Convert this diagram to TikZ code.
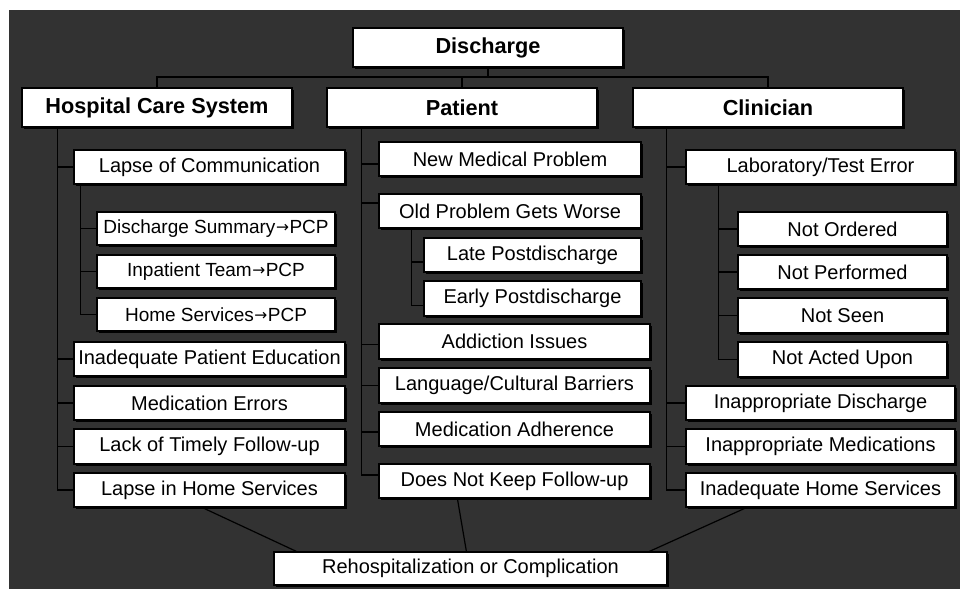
\documentclass[tikz,border=0pt]{standalone}
\usepackage{fontspec}
\setmainfont{Liberation Sans}
\newfontfamily\arrowfont{DejaVu Sans}
\newcommand\rarr{\kern0.5pt\raisebox{0.5pt}{\resizebox{13pt}{!}{\arrowfont →}}\kern0.5pt}
\usetikzlibrary{shadows}
\definecolor{bgdark}{HTML}{323232}
\tikzset{
  box/.style={draw=black, fill=white, line width=1.2pt, inner sep=0pt,
    general shadow={fill=black, shadow xshift=2pt, shadow yshift=-2pt},
    font=\fontsize{20}{24}\selectfont},
  smallbox/.style={box, font=\fontsize{19}{22}\selectfont},
  headbox/.style={box, font=\fontsize{21.7}{26}\selectfont\bfseries},
  conn/.style={draw=black, line width=1.5pt},
}
\newcommand\mkbox[7][box]{%
  \node[#1, minimum width={(#5-#3)*1pt}, minimum height={(#6-#4)*1pt}]
    (#2) at ({(#3+#5)/2},{(#4+#6)/2}) {#7};}
\begin{document}
\begin{tikzpicture}[x=1pt,y=-1pt]
\useasboundingbox (0,0) rectangle (960,589);
\fill[white] (0,0) rectangle (960,589);
\fill[bgdark] (9,10) rectangle (960,589);

% headers
\mkbox[headbox]{dis}{353}{28}{623}{67}{Discharge}
\mkbox[headbox]{hcs}{22}{88}{292}{127}{Hospital Care System}
\mkbox[headbox]{pat}{327}{88}{597}{127}{Patient}
\mkbox[headbox]{cli}{633}{88}{903}{127}{Clinician}

% hospital care system
\mkbox{h1}{74}{150}{345}{184}{Lapse of Communication}
\mkbox[smallbox]{h1a}{97}{212}{335}{245}{Discharge Summary\rarr PCP}
\mkbox[smallbox]{h1b}{97}{255}{335}{288}{Inpatient Team\rarr PCP}
\mkbox[smallbox]{h1c}{97}{298}{335}{331}{Home Services\rarr PCP}
\mkbox{h2}{74}{342}{345}{376}{Inadequate Patient Education}
\mkbox{h3}{74}{386}{345}{420}{Medication Errors}
\mkbox{h4}{74}{429}{345}{464}{Lack of Timely Follow-up}
\mkbox{h5}{74}{473}{345}{507}{Lapse in Home Services}

% patient
\mkbox{p1}{379}{142}{641}{176}{New Medical Problem}
\mkbox{p2}{379}{194}{641}{228}{Old Problem Gets Worse}
\mkbox{p2a}{424}{238}{641}{272}{Late Postdischarge}
\mkbox{p2b}{424}{281}{641}{316}{Early Postdischarge}
\mkbox{p3}{379}{324}{650}{359}{Addiction Issues}
\mkbox{p4}{379}{368}{650}{403}{Language/Cultural Barriers}
\mkbox{p5}{379}{412}{650}{446}{Medication Adherence}
\mkbox{p6}{379}{464}{650}{498}{Does Not Keep Follow-up}

% clinician
\mkbox{c1}{686}{150}{955}{184}{Laboratory/Test Error}
\mkbox{c1a}{738}{212}{947}{246}{Not Ordered}
\mkbox{c1b}{738}{255}{947}{289}{Not Performed}
\mkbox{c1c}{738}{298}{947}{333}{Not Seen}
\mkbox{c1d}{738}{342}{947}{377}{Not Acted Upon}
\mkbox{c2}{686}{386}{955}{420}{Inappropriate Discharge}
\mkbox{c3}{686}{429}{955}{464}{Inappropriate Medications}
\mkbox{c4}{686}{473}{955}{507}{Inadequate Home Services}

% outcome
\mkbox{reh}{274}{552}{667}{585}{Rehospitalization or Complication}

% top bus
\coordinate (bus) at (0,77);
\draw[conn] (dis.south) -- (dis.south |- bus);
\draw[conn] (hcs.north) -- (hcs.north |- bus) -- (cli.north |- bus) -- (cli.north);
\draw[conn] (pat.north) -- (pat.north |- bus);

% hospital trunk
\coordinate (ht) at ([xshift=36pt]hcs.south west);
\draw[conn] (ht) |- (h5.west);
\foreach \n in {h1,h2,h3,h4} \draw[conn] (ht |- \n.west) -- (\n.west);
\coordinate (hst) at ([xshift=7pt]h1.south west);
\draw[conn] (hst) |- (h1c.west);
\foreach \n in {h1a,h1b} \draw[conn] (hst |- \n.west) -- (\n.west);

% patient trunk
\coordinate (pt) at ([xshift=35pt]pat.south west);
\coordinate (p1j) at ([yshift=-5pt]p1.west);
\coordinate (p2j) at ([yshift=8pt]p2.west);
\coordinate (p3j) at ([yshift=-3pt]p3.west);
\coordinate (p4j) at (p4.west);
\coordinate (p5j) at ([yshift=-3pt]p5.west);
\coordinate (p6j) at ([yshift=6pt]p6.west);
\draw[conn] (pt) |- (p6j);
\foreach \n in {p1j,p2j,p3j,p4j,p5j} \draw[conn] (pt |- \n) -- (\n);
\coordinate (pst) at ([xshift=33pt]p2.south west);
\coordinate (p2aj) at ([yshift=-7pt]p2a.west);
\coordinate (p2bj) at ([yshift=-7pt]p2b.west);
\draw[conn] (pst) |- (p2bj);
\draw[conn] (pst |- p2aj) -- (p2aj);

% clinician trunk
\coordinate (ct) at ([xshift=34pt]cli.south west);
\draw[conn] (ct) |- (c4.west);
\foreach \n in {c1,c2,c3} \draw[conn] (ct |- \n.west) -- (\n.west);
\coordinate (cst) at ([xshift=33pt]c1.south west);
\draw[conn] (cst) |- (c1d.west);
\foreach \n in {c1a,c1b,c1c} \draw[conn] (cst |- \n.west) -- (\n.west);

% to outcome
\draw[black, line width=1.2pt] ([xshift=129pt]h5.south west) -- ([xshift=23pt]reh.north west);
\draw[black, line width=1.2pt] ([xshift=79pt]p6.south west) -- ([xshift=193pt]reh.north west);
\draw[black, line width=1.2pt] ([xshift=61pt]c4.south west) -- ([xshift=376pt]reh.north west);
\end{tikzpicture}
\end{document}
